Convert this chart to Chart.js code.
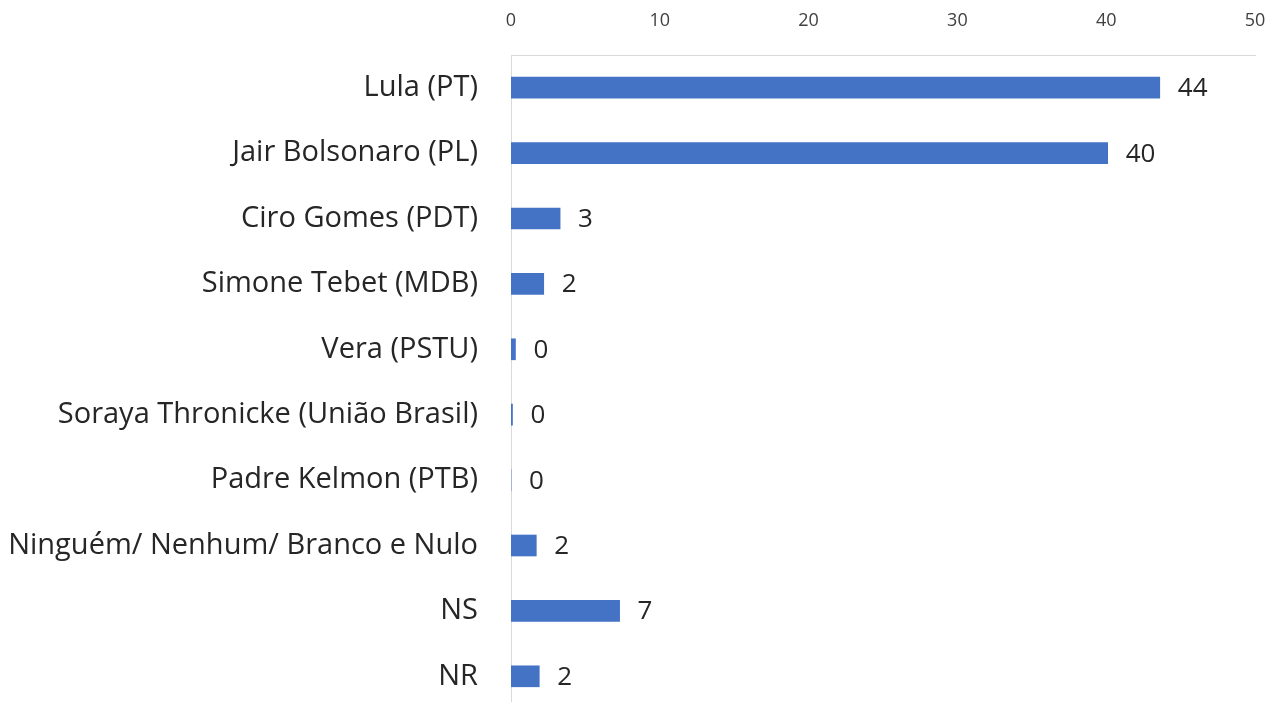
<!DOCTYPE html>
<html>
<head>
<meta charset="utf-8">
<script src="https://cdn.jsdelivr.net/npm/chart.js@4.4.0/dist/chart.umd.min.js"></script>
<style>
html,body{margin:0;padding:0;background:#fff;overflow:hidden;}
canvas{display:block;}
</style>
</head>
<body>
<canvas id="c" width="1271" height="709"></canvas>
<script>
const categories = ["Lula (PT)", "Jair Bolsonaro (PL)", "Ciro Gomes (PDT)", "Simone Tebet (MDB)", "Vera (PSTU)", "Soraya Thronicke (União Brasil)", "Padre Kelmon (PTB)", "Ninguém/ Nenhum/ Branco e Nulo", "NS", "NR"];
const values = [43.6, 40.1, 3.3, 2.2, 0.3, 0.1, 0, 1.7, 7.3, 1.9];
const valueLabels = ["44", "40", "3", "2", "0", "0", "0", "2", "7", "2"];
const xTicks = [0, 10, 20, 30, 40, 50];

const labelPlugin = {
  id: 'valueLabels',
  afterDatasetsDraw(chart) {
    const ctx = chart.ctx;
    const meta = chart.getDatasetMeta(0);
    ctx.save();
    ctx.font = '26px "Open Sans"';
    ctx.fillStyle = '#262626';
    ctx.textAlign = 'left';
    ctx.textBaseline = 'middle';
    meta.data.forEach((bar, i) => {
      ctx.fillText(valueLabels[i], bar.x + 18, bar.y + 1);
    });
    ctx.restore();
  }
};

new Chart(document.getElementById('c'), {
  type: 'bar',
  data: {
    labels: categories,
    datasets: [{
      data: values,
      backgroundColor: '#4472C4',
      borderWidth: 0,
      barThickness: 21
    }]
  },
  options: {
    indexAxis: 'y',
    responsive: false,
    animation: false,
    devicePixelRatio: 1,
    layout: { padding: { left: 0, right: 16, top: 0, bottom: 0 } },
    plugins: { legend: { display: false }, tooltip: { enabled: false } },
    scales: {
      x: {
        position: 'top',
        min: 0, max: 50,
        afterBuildTicks(scale) { scale.ticks = xTicks.map(v => ({ value: v })); },
        afterFit(scale) { scale.height = 55; scale.paddingLeft = 0; scale.paddingRight = 0; },
        grid: { display: false, drawTicks: false },
        border: { display: true, color: '#D9D9D9', width: 1 },
        ticks: { padding: 23, color: '#404040', font: { family: 'Open Sans', size: 18 } }
      },
      y: {
        afterFit(scale) { scale.width = 511; scale.paddingTop = 0; scale.paddingBottom = 0; },
        grid: { display: false, drawTicks: false },
        border: { display: true, color: '#D9D9D9', width: 1 },
        ticks: { padding: 33, color: '#262626', font: { family: '"Open Sans"', size: 29 } }
      }
    }
  },
  plugins: [labelPlugin]
});
</script>
</body>
</html>
